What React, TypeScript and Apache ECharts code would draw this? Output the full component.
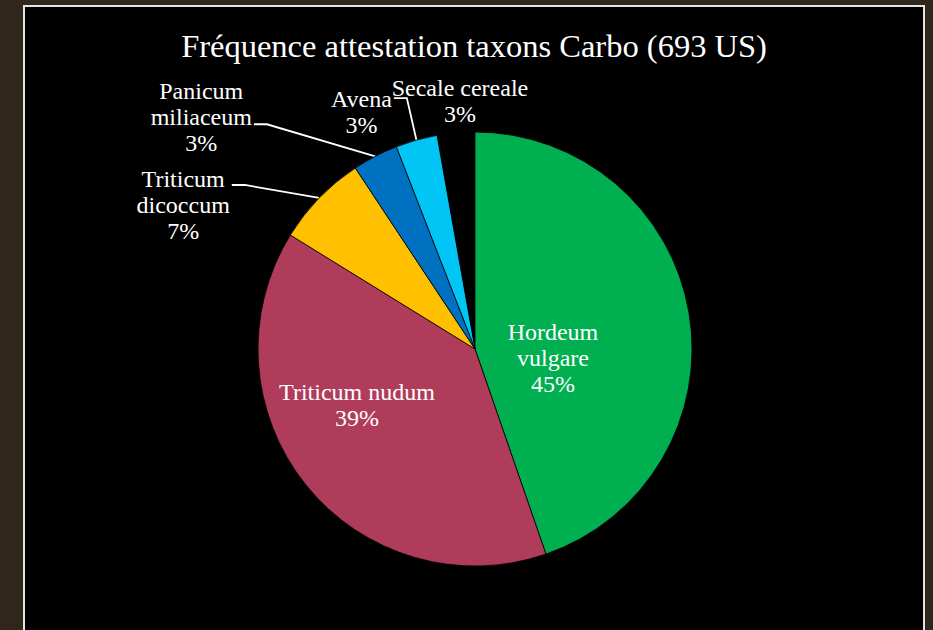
import React, { useEffect, useRef } from "react";
import * as echarts from "echarts";

const titleText = "Fréquence attestation taxons Carbo (693 US)";
const categories = [
  "Hordeum vulgare",
  "Triticum nudum",
  "Triticum dicoccum",
  "Panicum miliaceum",
  "Avena",
  "Secale cereale",
];
const labelNames = [
  "Hordeum\nvulgare",
  "Triticum nudum",
  "Triticum\ndicoccum",
  "Panicum\nmiliaceum",
  "Avena",
  "Secale cereale",
];
const values = [44.7, 39.1, 6.9, 3.4, 3.1, 2.8];
const colors = ["#00b050", "#b03c5c", "#ffc000", "#0070c0", "#00c5f5", "#000000"];

const FONT = "'Liberation Serif', 'Times New Roman', serif";

export default function App() {
  const ref = useRef<HTMLDivElement>(null);

  useEffect(() => {
    if (!ref.current) return;
    const chart = echarts.init(ref.current, undefined, { renderer: "svg" });

    const inside = [true, true, false, false, false, false];
    const showLine = [false, false, true, true, true, false];
    const place: { ox: number; oy: number; ly?: number }[] = [
      { ox: -32, oy: 27 },
      { ox: -31, oy: -14 },
      { ox: -136, oy: 7, ly: -13 },
      { ox: -174, oy: -39, ly: -32 },
      { ox: -55, oy: -28, ly: -42 },
      { ox: 4, oy: -32 },
    ];

    const data = categories.map((c, i) => ({
      name: c,
      value: values[i],
      itemStyle: {
        color: colors[i],
        borderColor: "#000",
        borderWidth: i === 5 ? 0 : 0.8,
      },
      label: {
        position: inside[i] ? "inside" : "outside",
      },
      labelLine: { show: showLine[i] },
    }));

    chart.setOption({
      animation: false,
      backgroundColor: "transparent",
      title: {
        text: titleText,
        left: "center",
        top: 17,
        textStyle: {
          color: "#ffffff",
          fontFamily: FONT,
          fontSize: 32.5,
          fontWeight: "normal",
        },
      },
      series: [
        {
          type: "pie",
          center: [450, 342],
          radius: 217,
          startAngle: 90,
          clockwise: true,
          avoidLabelOverlap: false,
          data,
          label: {
            show: true,
            color: "#ffffff",
            fontFamily: FONT,
            fontSize: 24,
            lineHeight: 26,
            formatter: (p: any) =>
              `${labelNames[p.dataIndex]}\n${Math.round(p.percent)}%`,
          },
          labelLine: {
            show: true,
            length: 15,
            length2: 15,
            lineStyle: { color: "#ffffff", width: 1.8 },
          },
          emphasis: { disabled: true },
          labelLayout: (params: any) => {
            const i = params.dataIndex;
            const r = params.labelRect;
            const cfg = place[i];
            let anchorX: number;
            let anchorY: number;
            if (inside[i] || !params.labelLinePoints) {
              anchorX = r.x + r.width / 2;
              anchorY = r.y + r.height / 2;
            } else {
              anchorX = params.labelLinePoints[0][0];
              anchorY = params.labelLinePoints[0][1];
            }
            const x = anchorX + cfg.ox;
            const y = anchorY + cfg.oy;
            const res: any = { x, y, align: "center", verticalAlign: "middle" };
            if (showLine[i] && params.labelLinePoints && cfg.ly != null) {
              const p0 = params.labelLinePoints[0];
              const endX = x + r.width / 2 + 2;
              const lineY = p0[1] + cfg.ly;
              res.labelLinePoints = [
                [p0[0], p0[1]],
                [endX + 13, lineY],
                [endX, lineY],
              ];
            }
            return res;
          },
        },
      ],
    });

    return () => chart.dispose();
  }, []);

  return (
    <div
      style={{
        position: "fixed",
        left: 0,
        top: 0,
        width: 933,
        height: 630,
        background: "#30261c",
        overflow: "hidden",
      }}
    >
      <div
        style={{
          position: "absolute",
          left: 23,
          top: 5,
          width: 898,
          height: 700,
          border: "2px solid #e4e4e4",
          background: "#000000",
        }}
      >
        <div ref={ref} style={{ width: 898, height: 623 }} />
      </div>
    </div>
  );
}
